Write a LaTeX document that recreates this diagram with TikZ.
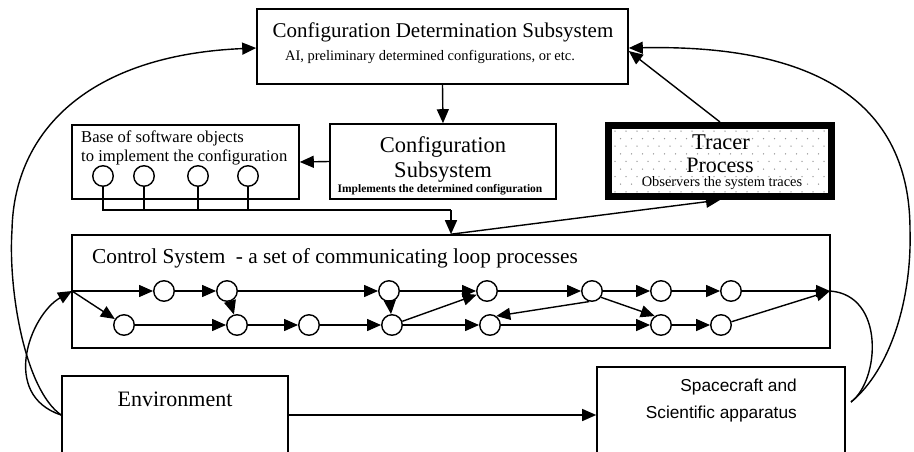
\documentclass[tikz,border=0pt]{standalone}
\usepackage{fontspec}
\setmainfont{Liberation Serif}
\newfontfamily\arialf{Liberation Sans}
\usetikzlibrary{arrows.meta}
\begin{document}
\begin{tikzpicture}[x=1pt,y=-1pt,
  box/.style={draw, line width=1.6pt, inner sep=0pt},
  txt/.style={inner sep=0pt},
  proc/.style={draw, circle, line width=1.4pt, minimum size=20.5pt, inner sep=0pt, fill=white},
  arr/.style={line width=1.4pt, -{Triangle[length=14pt,width=12pt]}},
  wire/.style={line width=1.4pt}]
\useasboundingbox (0,0) rectangle (914,451);
\clip (0,0) rectangle (914,451);
% tracer dots
\foreach \r in {0,...,8}{\foreach \c in {0,...,19}{
  \fill[gray!80] ({615+\c*11+mod(\r,2)*5.5},{131+\r*7.6}) circle (0.75pt);}}
% boxes
\node[box, minimum width=371pt, minimum height=75pt] (cds) at (442.5,46.5) {};
\node[box, minimum width=227pt, minimum height=74pt] (base) at (185.5,162) {};
\node[box, minimum width=226pt, minimum height=75pt] (conf) at (443,161.5) {};
\node[draw, line width=7pt, minimum width=223pt, minimum height=71pt, inner sep=0pt] (tracer) at (720,161) {};
\node[box, minimum width=758pt, minimum height=113pt] (cs) at (451,291.5) {};
\node[box, minimum width=226pt, minimum height=78pt] (env) at (175,415) {};
\node[box, minimum width=248pt, minimum height=96pt] (sc) at (721,415) {};
% texts
\node[txt, font=\fontsize{21}{25}\selectfont] (cdsT) at (443,32) {Configuration Determination Subsystem};
\node[txt, font=\fontsize{14.5}{17}\selectfont] (cdsS) at (430,57) {AI, preliminary determined configurations, or etc.};
\node[txt, font=\fontsize{16.6}{19}\selectfont, anchor=west] (baseT1) at (81,138) {Base of software objects};
\node[txt, font=\fontsize{16.6}{19}\selectfont, anchor=west] (baseT2) at (81,157) {to implement the configuration};
\node[txt, font=\fontsize{22.5}{26}\selectfont] (confT1) at (443,147) {Configuration};
\node[txt, font=\fontsize{22.5}{26}\selectfont] (confT2) at (443,172) {Subsystem};
\node[txt, font=\fontsize{11.5}{13}\selectfont\bfseries] (confT3) at (440,190) {Implements the determined configuration};
\node[txt, font=\fontsize{22.5}{26}\selectfont] (trT1) at (721,142) {Tracer};
\node[txt, font=\fontsize{22}{26}\selectfont] (trT2) at (720,165) {Process};
\node[txt, font=\fontsize{14.4}{17}\selectfont] (trT3) at (722,183) {Observers the system traces};
\node[txt, font=\fontsize{21.3}{25}\selectfont, anchor=west] (csT) at (92,258) {Control System\ \ - a set of communicating loop processes};
\node[txt, font=\fontsize{22}{26}\selectfont] (envT) at (175,399) {Environment};
\node[txt, font=\arialf\fontsize{17.3}{20}\selectfont, anchor=east] (scT1) at (797,387) {Spacecraft and};
\node[txt, font=\arialf\fontsize{17.3}{20}\selectfont, anchor=east] (scT2) at (797,414) {Scientific apparatus};
% base objects
\node[proc] (o1) at (103,176) {};
\node[proc] (o2) at (144,176) {};
\node[proc] (o3) at (198,176) {};
\node[proc] (o4) at (248,176) {};
\coordinate (bus) at (451,210);
\draw[wire] (o1.south) |- (bus);
\draw[wire] (o2.south) -- (o2.south |- bus);
\draw[wire] (o3.south) -- (o3.south |- bus);
\draw[wire] (o4.south) -- (o4.south |- bus);
\draw[arr] (bus) -- (cs.north);
% control processes
\foreach \n/\x in {1/164,2/227,3/389,4/487,5/592,6/661,7/731}{\node[proc] (T\n) at (\x,291) {};}
\foreach \n/\x in {1/124,2/237,3/309,4/392,5/490,6/661,7/721}{\node[proc] (B\n) at (\x,325) {};}
\coordinate (jl) at (72,291);
\coordinate (jr) at (830,291);
\draw[arr] (jl) -- (T1);
\draw[arr] (T1) -- (T2);
\draw[arr] (T2) -- (T3);
\draw[arr] (T3) -- (T4);
\draw[arr] (T4) -- (T5);
\draw[arr] (T5) -- (T6);
\draw[arr] (T6) -- (T7);
\draw[arr] (T7) -- (jr);
\draw[arr] (jl) -- (B1);
\draw[arr] (B1) -- (B2);
\draw[arr] (B2) -- (B3);
\draw[arr] (B3) -- (B4);
\draw[arr] (B4) -- (B5);
\draw[arr] (B5) -- (B6);
\draw[arr] (B6) -- (B7);
\draw[arr] (B7) -- (jr);
\draw[arr] (T2) -- (B2);
\draw[arr] (T3) -- (B4);
\draw[arr] (B4) -- (T4);
\draw[arr] (T5.255) -- (B5.55);
\draw[arr] (T5.-35) -- (B6.125);
% main connectors
\draw[arr] (cds.south) -- (conf.north);
\draw[arr] (conf.west) -- (base.east);
\draw[arr] (tracer.north) -- ([yshift=-4.5pt]cds.east);
\draw[arr] (cs.north) -- (tracer.south);
\draw[arr] (env.east) -- (sc.west);
\coordinate (scr) at (851,402);
\draw[arr] (env.west) .. controls (25,390) and (8,290) .. (12,230) .. controls (14,130) and (90,55) .. ([yshift=-1.5pt]cds.west);
\draw[arr] (env.west) .. controls (0,395) and (30,315) .. (jl);
\draw[wire] (jr) .. controls (885,295) and (880,380) .. (scr);
\draw[arr] (scr) .. controls (890,370) and (912,300) .. (910,230) .. controls (910,80) and (780,45) .. ([yshift=-1.5pt]cds.east);
\end{tikzpicture}
\end{document}
